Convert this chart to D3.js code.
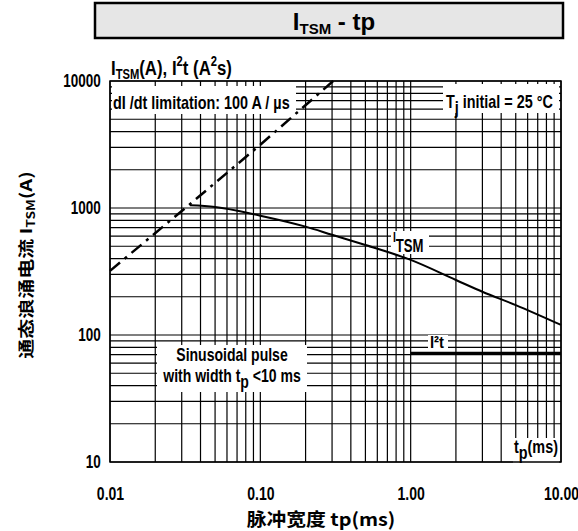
<!DOCTYPE html>
<html>
<head>
<meta charset="utf-8">
<script src="https://cdn.jsdelivr.net/npm/d3@7"></script>
<style>
  body { margin: 0; background: #fff; }
  svg { display: block; }
  .narrow { font-family: "Liberation Sans Narrow", "Arial Narrow", "Liberation Sans", Arial, sans-serif; font-weight: bold; }
  .cjk { font-family: "Noto Sans CJK SC", "Liberation Sans", sans-serif; font-weight: bold; }
</style>
</head>
<body>
<svg id="chart" width="578" height="531"></svg>
<script>
// dI/dt limitation line (dash-dot)
var limitTp = [0.01, 0.033, 0.1, 0.32];
var limitI = [320, 1040, 3150, 10500];

// I_TSM surge current curve
var itsmTp = [0.034, 0.05, 0.1, 0.2, 0.3, 0.5, 1, 2, 3, 5, 10];
var itsmI = [1050, 1020, 870, 713, 615, 511, 390, 271, 219, 172, 120];

// I2t line
var i2tTp = [1, 10];
var i2tVal = [72, 72];

var xTickValues = [0.01, 0.1, 1, 10];
var xTickLabels = ['0.01', '0.10', '1.00', '10.00'];
var yTickValues = [10, 100, 1000, 10000];
var yTickLabels = ['10', '100', '1000', '10000'];

var margin = { left: 110, right: 17, top: 81, bottom: 69 };
var W = 578, H = 531;

var svg = d3.select('#chart');

var x = d3.scaleLog().domain([0.01, 10]).range([margin.left, W - margin.right]);
var y = d3.scaleLog().domain([10, 10000]).range([H - margin.bottom, margin.top]);

// text squeezed horizontally, the source uses a narrow face
const label = (px, py, size, sx, anchor) => {
    return svg.append('text')
        .attr('class', 'narrow')
        .attr('transform', 'translate(' + px + ',' + py + ') scale(' + sx + ',1)')
        .attr('text-anchor', anchor || 'start')
        .attr('font-size', size)
        .attr('fill', '#000');
};

// title box
svg.append('rect')
    .attr('x', 95).attr('y', 3)
    .attr('width', 468).attr('height', 35)
    .attr('fill', '#e6e6e6')
    .attr('stroke', '#000')
    .attr('stroke-width', 2.5);

var title = svg.append('text')
    .attr('x', 334).attr('y', 30)
    .attr('text-anchor', 'middle')
    .attr('font-family', 'Liberation Sans, Arial, sans-serif')
    .attr('font-weight', 'bold')
    .attr('font-size', 24);
title.append('tspan').text('I');
title.append('tspan').attr('font-size', 15).attr('dy', 4).text('TSM');
title.append('tspan').attr('dy', -4).text(' - tp');

// grid
var grid = svg.append('g').attr('stroke', '#000').attr('stroke-width', 1.2);
grid.selectAll('.vline')
    .data(x.ticks())
    .enter()
    .append('line')
    .attr('class', 'vline')
    .attr('x1', d => x(d)).attr('x2', d => x(d))
    .attr('y1', y(10000)).attr('y2', y(10));
grid.selectAll('.hline')
    .data(y.ticks())
    .enter()
    .append('line')
    .attr('class', 'hline')
    .attr('x1', x(0.01)).attr('x2', x(10))
    .attr('y1', d => y(d)).attr('y2', d => y(d));

// white label backgrounds that hide the grid
var boxes = [
    [112, 86, 184, 28],
    [443, 84, 116, 29],
    [391, 231, 38, 23],
    [428, 335, 20, 14],
    [157, 345, 150, 47],
    [513, 438, 46, 29]
];
svg.selectAll('.lblbox')
    .data(boxes)
    .enter()
    .append('rect')
    .attr('class', 'lblbox')
    .attr('x', d => d[0]).attr('y', d => d[1])
    .attr('width', d => d[2]).attr('height', d => d[3])
    .attr('fill', '#fff');

// frame
svg.append('rect')
    .attr('x', x(0.01)).attr('y', y(10000))
    .attr('width', x(10) - x(0.01))
    .attr('height', y(10) - y(10000))
    .attr('fill', 'none')
    .attr('stroke', '#000')
    .attr('stroke-width', 1.5);

// curves
var line = d3.line()
    .x(d => x(d[0]))
    .y(d => y(d[1]));

svg.append('path')
    .datum(d3.zip(limitTp, limitI))
    .attr('fill', 'none')
    .attr('stroke', '#000')
    .attr('stroke-width', 2.5)
    .attr('stroke-dasharray', '13,6,3,6')
    .attr('d', line);

svg.append('path')
    .datum(d3.zip(itsmTp, itsmI))
    .attr('fill', 'none')
    .attr('stroke', '#000')
    .attr('stroke-width', 2)
    .attr('d', d3.line().x(d => x(d[0])).y(d => y(d[1])).curve(d3.curveMonotoneX));

svg.append('path')
    .datum(d3.zip(i2tTp, i2tVal))
    .attr('fill', 'none')
    .attr('stroke', '#000')
    .attr('stroke-width', 2.5)
    .attr('d', line);

// axes
var xAxis = svg.append('g')
    .attr('transform', 'translate(0,' + (H - margin.bottom + 22) + ')')
    .call(d3.axisBottom(x)
        .tickValues(xTickValues)
        .tickFormat((d, i) => xTickLabels[i])
        .tickSize(0));
xAxis.select('.domain').remove();
xAxis.selectAll('text')
    .attr('class', 'narrow')
    .attr('font-size', 18)
    .attr('fill', '#000')
    .attr('transform', 'scale(0.78,1)');

var yAxis = svg.append('g')
    .attr('transform', 'translate(' + (margin.left - 7) + ',0)')
    .call(d3.axisLeft(y)
        .tickValues(yTickValues)
        .tickFormat((d, i) => yTickLabels[i])
        .tickSize(0));
yAxis.select('.domain').remove();
yAxis.selectAll('text')
    .attr('class', 'narrow')
    .attr('font-size', 18)
    .attr('fill', '#000')
    .attr('transform', 'scale(0.75,1)');

// labels
var unit = label(111, 75, 21, 0.8);
unit.append('tspan').text('I');
unit.append('tspan').attr('font-size', 14).attr('dy', 4).text('TSM');
unit.append('tspan').attr('dy', -4).text('(A), I');
unit.append('tspan').attr('font-size', 14).attr('dy', -9).text('2');
unit.append('tspan').attr('dy', 9).text('t (A');
unit.append('tspan').attr('font-size', 14).attr('dy', -9).text('2');
unit.append('tspan').attr('dy', 9).text('s)');

label(113, 109, 18, 0.8).text('dI /dt limitation: 100 A / \u00b5s');

var tj = label(446, 108, 18, 0.8);
tj.append('tspan').text('T');
tj.append('tspan').attr('dy', 6).text('j');
tj.append('tspan').attr('dy', -6).text(' initial = 25 \u00b0C');

var itsm = label(393, 242, 14, 0.73);
itsm.append('tspan').text('I');
itsm.append('tspan').attr('font-size', 18).attr('dy', 10).text('TSM');

label(430, 348, 17, 0.87).text('I\u00b2t');

label(232, 361, 18, 0.78, 'middle').text('Sinusoidal pulse');

var sw = label(232, 382, 18, 0.78, 'middle');
sw.append('tspan').text('with width t');
sw.append('tspan').attr('dy', 6).text('p');
sw.append('tspan').attr('dy', -6).text(' <10 ms');

var tp = label(514, 453, 18, 0.8);
tp.append('tspan').text('t');
tp.append('tspan').attr('dy', 6).text('p');
tp.append('tspan').attr('dy', -6).text('(ms)');

// axis titles
svg.append('text')
    .attr('class', 'cjk')
    .attr('transform', 'translate(321,526) scale(1.1,1)')
    .attr('text-anchor', 'middle')
    .attr('font-size', 18)
    .text('\u8109\u51b2\u5bbd\u5ea6 tp(ms)');

var yt = svg.append('text')
    .attr('class', 'cjk')
    .attr('transform', 'translate(32,265) rotate(-90) scale(1.25,1)')
    .attr('text-anchor', 'middle')
    .attr('font-size', 16);
yt.append('tspan').text('\u901a\u6001\u6d6a\u6d8c\u7535\u6d41 I');
yt.append('tspan').attr('font-size', 11).attr('dy', 3).text('TSM');
yt.append('tspan').attr('dy', -3).text('(A)');
</script>
</body>
</html>
